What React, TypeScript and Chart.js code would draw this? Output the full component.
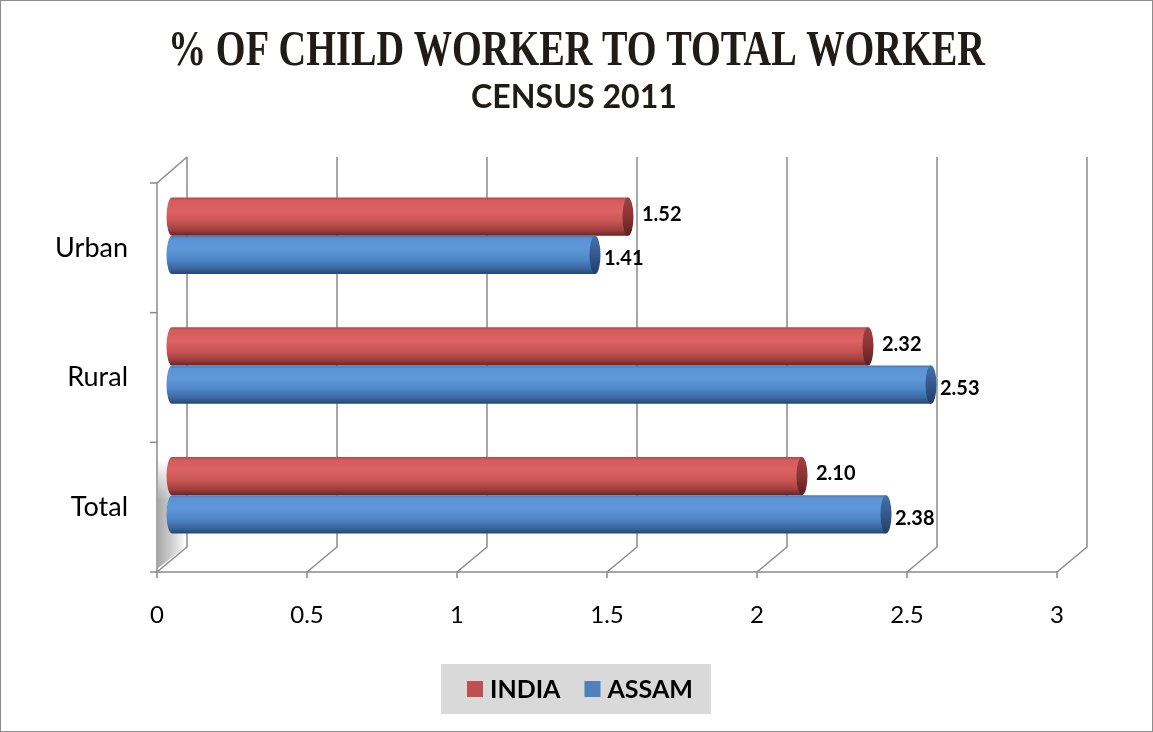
import React, { useEffect, useRef } from "react";
import { Chart, registerables } from "chart.js";

Chart.register(...registerables);

// ---- data ----
const categories = ["Urban", "Rural", "Total"];
const indiaValues = [1.52, 2.32, 2.1];
const assamValues = [1.41, 2.53, 2.38];
const seriesNames = ["INDIA", "ASSAM"];
const xTickValues = [0, 0.5, 1, 1.5, 2, 2.5, 3];
const titleText = "% OF CHILD WORKER TO TOTAL WORKER";
const subtitleText = "CENSUS 2011";

// ---- style constants ----
const legendColors = ["#c0504d", "#4f81bd"];
const bodyStops: Array<Array<[number, string]>> = [
  [
    [0, "#b44848"],
    [0.08, "#d65c5c"],
    [0.35, "#dc6363"],
    [0.62, "#c95454"],
    [0.85, "#9f3f3f"],
    [1, "#6a2424"],
  ],
  [
    [0, "#4779b8"],
    [0.08, "#5b93d6"],
    [0.35, "#5e97da"],
    [0.62, "#4f86c7"],
    [0.85, "#3a679f"],
    [1, "#254772"],
  ],
];
const capStops: Array<Array<[number, string]>> = [
  [
    [0, "#a04040"],
    [0.5, "#8a3434"],
    [1, "#5c1f1f"],
  ],
  [
    [0, "#4272ad"],
    [0.5, "#33598c"],
    [1, "#213f66"],
  ],
];
const DEPTH_X = 30;
const DEPTH_Y = 25;
const BAR_DX = 15;
const BAR_DY = -12;
const CAP_RX = 5.5;
const LABEL_DX = [14, 9];
const LABEL_DY = [-2, 4];
const GRID = "#8a8a8a";

function drawFitted(
  ctx: CanvasRenderingContext2D,
  text: string,
  font: string,
  cx: number,
  baseline: number,
  targetW: number,
  color: string
) {
  ctx.save();
  ctx.font = font;
  const w = ctx.measureText(text).width;
  const sx = targetW / w;
  ctx.translate(cx, baseline);
  ctx.scale(sx, 1);
  ctx.textAlign = "center";
  ctx.textBaseline = "alphabetic";
  ctx.fillStyle = color;
  ctx.fillText(text, 0, 0);
  ctx.restore();
}

const chart3dPlugin = {
  id: "chart3d",
  beforeDraw(chart: any) {
    const { ctx, width, height } = chart;
    ctx.save();
    ctx.fillStyle = "#ffffff";
    ctx.fillRect(0, 0, width, height);
    ctx.strokeStyle = "#8c8c8c";
    ctx.lineWidth = 1;
    ctx.strokeRect(0.5, 0.5, width - 1, height - 1);
    ctx.restore();
    drawFitted(ctx, titleText, "bold 50px 'Liberation Serif'", 576.5, 65, 817, "#1f1b16");
    drawFitted(ctx, subtitleText, "bold 32px Lato", 574, 108, 206, "#1f1b16");
  },
  beforeDatasetsDraw(chart: any) {
    const { ctx, chartArea: area } = chart;
    const xs = chart.scales.x;
    const ys = chart.scales.y;
    const x0 = xs.getPixelForValue(xTickValues[0]);
    const xEnd = xs.getPixelForValue(xTickValues[xTickValues.length - 1]);
    const backTop = area.top - DEPTH_Y - 1;
    const backBottom = area.bottom - DEPTH_Y;

    ctx.save();
    // left wall shadow
    const shTop = area.bottom - 112;
    const sg = ctx.createLinearGradient(x0 + 1, 0, x0 + DEPTH_X - 3, 0);
    sg.addColorStop(0, "#a9a9a9");
    sg.addColorStop(0.6, "#d4d4d4");
    sg.addColorStop(1, "#f7f7f7");
    ctx.fillStyle = sg;
    ctx.beginPath();
    ctx.moveTo(x0 + 1, shTop);
    ctx.lineTo(x0 + DEPTH_X - 3, shTop);
    ctx.lineTo(x0 + DEPTH_X - 3, backBottom + 1);
    ctx.lineTo(x0 + 1, area.bottom - 4);
    ctx.closePath();
    ctx.fill();
    const fade = ctx.createLinearGradient(0, shTop, 0, shTop + 40);
    fade.addColorStop(0, "rgba(255,255,255,1)");
    fade.addColorStop(1, "rgba(255,255,255,0)");
    ctx.fillStyle = fade;
    ctx.fillRect(x0 + 1, shTop, DEPTH_X - 4, 40);

    ctx.strokeStyle = GRID;
    ctx.lineWidth = 1.5;
    // back wall verticals + floor diagonals + front ticks
    xTickValues.forEach((v) => {
      const fx = xs.getPixelForValue(v);
      const bx = fx + DEPTH_X;
      ctx.beginPath();
      ctx.moveTo(bx, backTop);
      ctx.lineTo(bx, backBottom);
      ctx.lineTo(fx, area.bottom);
      ctx.lineTo(fx, area.bottom + 6);
      ctx.stroke();
    });
    // front floor line
    ctx.beginPath();
    ctx.moveTo(x0, area.bottom);
    ctx.lineTo(xEnd, area.bottom);
    ctx.stroke();
    // left wall front edge and top diagonal
    ctx.beginPath();
    ctx.moveTo(x0 + DEPTH_X, backTop);
    ctx.lineTo(x0, area.top);
    ctx.lineTo(x0, area.bottom);
    ctx.stroke();
    // y ticks at category boundaries
    for (let i = 0; i <= categories.length; i++) {
      const y = ys.getPixelForValue(i - 0.5);
      ctx.beginPath();
      ctx.moveTo(x0 - 7, y);
      ctx.lineTo(x0, y);
      ctx.stroke();
    }

    // cylinders
    chart.data.datasets.forEach((ds: any, di: number) => {
      const meta = chart.getDatasetMeta(di);
      meta.data.forEach((el: any, i: number) => {
        const p = el.getProps(["x", "y", "base", "height"], true);
        const bx0 = p.base + BAR_DX;
        const bx1 = p.x + BAR_DX;
        const top = p.y - p.height / 2 + BAR_DY;
        const bot = p.y + p.height / 2 + BAR_DY;
        const h = bot - top;
        const cy = (top + bot) / 2;
        const g = ctx.createLinearGradient(0, top, 0, bot);
        bodyStops[di].forEach(([o, c]) => g.addColorStop(o, c));
        ctx.fillStyle = g;
        ctx.beginPath();
        ctx.ellipse(bx0, cy, CAP_RX, h / 2, 0, Math.PI / 2, Math.PI * 1.5);
        ctx.lineTo(bx1, top);
        ctx.lineTo(bx1, bot);
        ctx.closePath();
        ctx.fill();
        const g2 = ctx.createLinearGradient(0, top, 0, bot);
        capStops[di].forEach(([o, c]) => g2.addColorStop(o, c));
        ctx.fillStyle = g2;
        ctx.beginPath();
        ctx.ellipse(bx1, cy, CAP_RX, h / 2, 0, 0, Math.PI * 2);
        ctx.fill();

        const val = ds.data[i] as number;
        ctx.fillStyle = "#000000";
        ctx.font = "bold 20px Lato";
        ctx.textAlign = "left";
        ctx.textBaseline = "middle";
        ctx.fillText(val.toFixed(2), bx1 + LABEL_DX[di], cy + LABEL_DY[di]);
      });
    });
    ctx.restore();
    return false;
  },
  afterDraw(chart: any) {
    const { ctx } = chart;
    ctx.save();
    ctx.fillStyle = "#d9d9d9";
    ctx.fillRect(441, 664, 270, 50);
    ctx.font = "bold 25px Lato";
    ctx.textAlign = "left";
    ctx.textBaseline = "alphabetic";
    let x = 467;
    chart.data.datasets.forEach((ds: any, di: number) => {
      ctx.fillStyle = legendColors[di];
      ctx.fillRect(x, 681, 16, 16);
      ctx.fillStyle = "#000000";
      ctx.fillText(ds.label, x + 23, 698);
      x += 23 + ctx.measureText(ds.label).width + 24;
    });
    ctx.restore();
  },
};

export default function App() {
  const ref = useRef<HTMLCanvasElement | null>(null);
  useEffect(() => {
    document.body.style.margin = "0";
    if (!ref.current) return;
    Chart.defaults.font.family = "Lato";
    const chart = new Chart(ref.current, {
      type: "bar",
      data: {
        labels: categories,
        datasets: [
          { label: seriesNames[0], data: indiaValues, backgroundColor: legendColors[0] },
          { label: seriesNames[1], data: assamValues, backgroundColor: legendColors[1] },
        ],
      },
      options: {
        indexAxis: "y",
        responsive: false,
        maintainAspectRatio: false,
        animation: false,
        devicePixelRatio: 1,
        layout: { padding: { top: 183, left: 17, right: 96, bottom: 100 } },
        datasets: { bar: { categoryPercentage: 0.59, barPercentage: 1 } },
        plugins: {
          legend: { display: false },
          title: { display: false },
          tooltip: { enabled: false },
        },
        scales: {
          x: {
            type: "linear",
            min: xTickValues[0],
            max: xTickValues[xTickValues.length - 1],
            afterBuildTicks: (s: any) => {
              s.ticks = xTickValues.map((v) => ({ value: v }));
            },
            afterFit: (s: any) => {
              s.height = 60;
            },
            ticks: {
              color: "#000000",
              font: { family: "Lato", size: 24 },
              padding: 29,
              maxRotation: 0,
              autoSkip: false,
              callback: (v: any) => String(v),
            },
            grid: { display: false, drawTicks: false },
            border: { display: false },
          },
          y: {
            afterFit: (s: any) => {
              s.width = 140;
            },
            ticks: {
              color: "#000000",
              font: { family: "Lato", size: 27 },
              padding: 29,
            },
            grid: { display: false, drawTicks: false },
            border: { display: false },
          },
        },
      } as any,
      plugins: [chart3dPlugin as any],
    });
    return () => chart.destroy();
  }, []);
  return (
    <div style={{ width: 1153, height: 732 }}>
      <canvas ref={ref} width={1153} height={732} style={{ display: "block", width: 1153, height: 732 }} />
    </div>
  );
}
